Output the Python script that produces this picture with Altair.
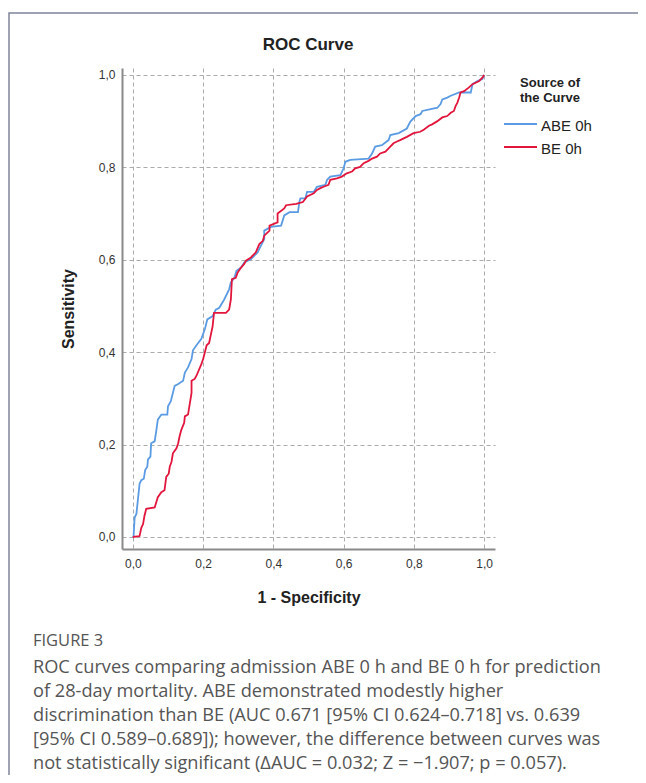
import altair as alt
import pandas as pd

# ---- data ----
abe_fpr = [0, 0.002, 0.005, 0.010, 0.012, 0.016, 0.019, 0.024, 0.031, 0.035,
           0.041, 0.043, 0.050, 0.052, 0.062, 0.067, 0.071, 0.081, 0.098, 0.100,
           0.108, 0.114, 0.119, 0.129, 0.143, 0.148, 0.157, 0.167, 0.171, 0.181,
           0.195, 0.205, 0.212, 0.227, 0.236, 0.246, 0.260, 0.274, 0.279, 0.289,
           0.295, 0.308, 0.317, 0.336, 0.355, 0.365, 0.374, 0.374, 0.393, 0.422,
           0.431, 0.446, 0.470, 0.474, 0.477, 0.491, 0.496, 0.515, 0.524, 0.548,
           0.553, 0.562, 0.591, 0.600, 0.605, 0.619, 0.671, 0.681, 0.690, 0.709,
           0.728, 0.733, 0.757, 0.780, 0.790, 0.805, 0.819, 0.824, 0.848, 0.867,
           0.876, 0.881, 0.895, 0.905, 0.929, 0.962, 0.967, 0.981, 0.995, 1.0]
abe_tpr = [0, 0.002, 0.042, 0.050, 0.064, 0.093, 0.115, 0.123, 0.126, 0.145,
           0.152, 0.168, 0.174, 0.203, 0.207, 0.232, 0.254, 0.265, 0.265, 0.283,
           0.294, 0.312, 0.327, 0.331, 0.338, 0.356, 0.367, 0.385, 0.404, 0.415,
           0.429, 0.450, 0.471, 0.478, 0.492, 0.496, 0.514, 0.536, 0.551, 0.561,
           0.576, 0.583, 0.594, 0.601, 0.616, 0.631, 0.645, 0.663, 0.671, 0.674,
           0.696, 0.703, 0.703, 0.725, 0.733, 0.733, 0.747, 0.747, 0.758, 0.762,
           0.773, 0.780, 0.783, 0.798, 0.812, 0.816, 0.819, 0.830, 0.845, 0.848,
           0.859, 0.870, 0.874, 0.884, 0.899, 0.911, 0.915, 0.922, 0.926, 0.929,
           0.937, 0.947, 0.951, 0.955, 0.962, 0.962, 0.980, 0.987, 0.991, 1.0]

be_fpr = [0, 0.019, 0.024, 0.029, 0.033, 0.038, 0.062, 0.071, 0.081, 0.090,
          0.095, 0.102, 0.105, 0.110, 0.114, 0.124, 0.129, 0.133, 0.138, 0.146,
          0.148, 0.157, 0.167, 0.167, 0.176, 0.181, 0.195, 0.200, 0.205, 0.210,
          0.217, 0.222, 0.227, 0.231, 0.265, 0.274, 0.279, 0.282, 0.293, 0.298,
          0.308, 0.317, 0.322, 0.336, 0.350, 0.360, 0.370, 0.374, 0.389, 0.389,
          0.412, 0.412, 0.431, 0.436, 0.465, 0.484, 0.496, 0.515, 0.524, 0.534,
          0.543, 0.557, 0.562, 0.581, 0.595, 0.609, 0.624, 0.633, 0.647, 0.657,
          0.671, 0.681, 0.695, 0.704, 0.719, 0.728, 0.742, 0.752, 0.761, 0.780,
          0.799, 0.818, 0.829, 0.843, 0.852, 0.867, 0.881, 0.895, 0.905, 0.914,
          0.919, 0.924, 0.929, 0.933, 0.943, 0.957, 0.967, 0.986, 0.995, 1.0]
be_tpr = [0, 0.002, 0.020, 0.028, 0.046, 0.061, 0.064, 0.086, 0.097, 0.101,
          0.130, 0.137, 0.152, 0.163, 0.181, 0.192, 0.203, 0.218, 0.232, 0.247,
          0.261, 0.265, 0.312, 0.338, 0.342, 0.349, 0.374, 0.385, 0.400, 0.415,
          0.420, 0.438, 0.456, 0.485, 0.485, 0.492, 0.514, 0.558, 0.561, 0.572,
          0.583, 0.591, 0.598, 0.605, 0.616, 0.634, 0.641, 0.652, 0.663, 0.674,
          0.681, 0.700, 0.711, 0.718, 0.721, 0.725, 0.737, 0.744, 0.751, 0.755,
          0.758, 0.762, 0.773, 0.776, 0.780, 0.787, 0.791, 0.798, 0.801, 0.809,
          0.814, 0.819, 0.823, 0.830, 0.834, 0.841, 0.852, 0.856, 0.859, 0.866,
          0.874, 0.877, 0.882, 0.890, 0.893, 0.900, 0.908, 0.911, 0.918, 0.922,
          0.933, 0.940, 0.951, 0.962, 0.965, 0.973, 0.980, 0.987, 0.994, 1.0]

series_names = ["ABE 0h", "BE 0h"]
series_colors = ["#5b9be3", "#e2163d"]
tick_values = [0, 0.2, 0.4, 0.6, 0.8, 1.0]

chart_title = "ROC Curve"
x_title = "1 - Specificity"
y_title = "Sensitivity"
legend_title = ["Source of", "the Curve"]
figure_label = "FIGURE 3"
caption_lines = [
    "ROC curves comparing admission ABE 0 h and BE 0 h for prediction",
    "of 28-day mortality. ABE demonstrated modestly higher",
    "discrimination than BE (AUC 0.671 [95% CI 0.624\u20130.718] vs. 0.639",
    "[95% CI 0.589\u20130.689]); however, the difference between curves was",
    "not statistically significant (\u0394AUC = 0.032; Z = \u22121.907; p = 0.057).",
]

# ---- table ----
rows = []
for name, fpr, tpr in [(series_names[0], abe_fpr, abe_tpr),
                       (series_names[1], be_fpr, be_tpr)]:
    for i, (a, b) in enumerate(zip(fpr, tpr)):
        rows.append({"series": name, "fpr": a, "tpr": b, "order": i})
df = pd.DataFrame(rows)

NARROW = "Liberation Sans Narrow, Arial Narrow, Liberation Sans, sans-serif"
REG = "Liberation Sans, Arial, sans-serif"
CAP = "Open Sans, Noto Sans, sans-serif"
label_expr = "replace(format(datum.value, '.1f'), '.', ',')"

common_axis = dict(
    values=tick_values, labelExpr=label_expr, grid=True, gridDash=[4, 3],
    gridColor="#ababab", gridWidth=1, domainColor="#8a8a8a", domainWidth=2,
    ticks=False, labelFont=REG, labelFontSize=12, labelColor="#333333",
    titleFont=NARROW, titleFontSize=16, titleFontWeight="bold", titleColor="#222222",
)

lines = alt.Chart(df).mark_line(strokeWidth=1.8).encode(
    x=alt.X("fpr:Q",
            scale=alt.Scale(domain=[-0.031, 1.031], nice=False, zero=False),
            axis=alt.Axis(title=x_title, labelPadding=9, titlePadding=20, **common_axis)),
    y=alt.Y("tpr:Q",
            scale=alt.Scale(domain=[-0.026, 1.015], nice=False, zero=False),
            axis=alt.Axis(title=y_title, labelPadding=7, titlePadding=22, **common_axis)),
    color=alt.Color("series:N",
                    scale=alt.Scale(domain=series_names, range=series_colors),
                    legend=None),
    order="order:Q",
)

one = alt.Data(values=[{}])


def txt(text, x, y, baseline="middle", **kw):
    return alt.Chart(one).mark_text(text=text, baseline=baseline, **kw).encode(
        x=alt.value(x), y=alt.value(y))


frame = alt.Chart(one).mark_rect(filled=False, stroke="#80849a", strokeWidth=1.5).encode(
    x=alt.value(-113), x2=alt.value(560), y=alt.value(-55), y2=alt.value(760))

# title
layers = [txt(chart_title, 186, -23, align="center", font=NARROW, fontSize=17,
              fontWeight="bold", color="#222222")]

# legend (drawn by hand so the rows keep the reference spacing)
layers.append(txt(legend_title[0], 428, 14.5, align="center", font=NARROW, fontSize=13,
                  fontWeight="bold", color="#222222"))
layers.append(txt(legend_title[1], 428, 29.5, align="center", font=NARROW, fontSize=13,
                  fontWeight="bold", color="#222222"))
for k, (name, col) in enumerate(zip(series_names, series_colors)):
    yy = 56 + 23 * k
    layers.append(alt.Chart(one).mark_rule(color=col, strokeWidth=2).encode(
        x=alt.value(382), x2=alt.value(415), y=alt.value(yy)))
    layers.append(txt(name, 419, yy + 2, align="left", font=NARROW, fontSize=15,
                      color="#222222"))

# caption (alphabetic baselines, page y minus plot top 68)
layers.append(txt(figure_label, -89, 578, baseline="alphabetic", align="left",
                  font=CAP, fontSize=16.5, color="#555555"))
cap_base = [605, 629, 653, 677, 701]
for line, yy in zip(caption_lines, cap_base):
    layers.append(txt(line, -89, yy, baseline="alphabetic", align="left",
                      font=CAP, fontSize=18.2, color="#555555"))

chart = alt.layer(frame, lines, *layers).properties(
    width=373, height=481,
    autosize=alt.AutoSizeParams(type="none"),
    padding={"left": 114, "top": 60, "right": 143, "bottom": 226},
).configure_view(strokeWidth=0)

chart.save("out.html", embed_options={"renderer": "svg", "actions": False})
